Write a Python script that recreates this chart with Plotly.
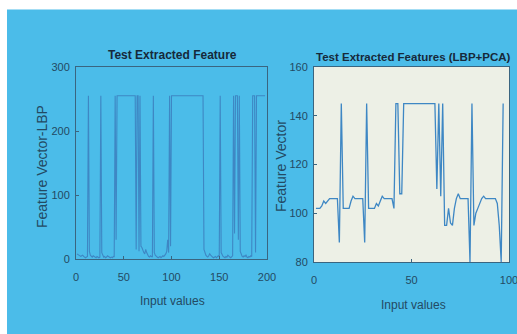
import plotly.graph_objects as go

# ---- data ----
lbp_values = [
    8, 7, 6, 5, 4, 5, 6, 4, 3, 2, 3, 4,
    255,
    12, 6, 4, 3, 5, 4, 3, 2, 4, 3, 2, 3,
    255,
    10, 5, 3, 4, 2, 3, 5, 4, 3, 2, 3, 2, 4, 3,
    255, 30, 255,
    255, 255, 255, 255, 255, 255, 255, 255, 255, 255, 255, 255, 255, 255, 255, 255, 255, 255,
    255, 15, 255, 255, 12, 255, 20,
    18, 12, 10, 8, 15, 10, 6, 4, 3, 5, 4, 3,
    255,
    10, 6, 4, 3, 2, 3, 4, 2, 3, 5, 4, 6, 8, 12, 30, 10,
    255, 20, 255,
    255, 255, 255, 255, 255, 255, 255, 255, 255, 255, 255, 255, 255, 255, 255, 255, 255,
    255, 255, 255, 255, 255, 255, 255, 255, 255, 255, 255, 255, 255, 255, 255, 255,
    15, 8,
    6, 4, 3, 5, 8, 6, 4, 3, 2, 3, 4, 2, 3, 5, 4,
    255,
    10, 5, 4, 3, 2, 4, 3, 6, 4, 3, 2, 3, 5,
    255, 40, 255, 255, 255, 30, 255, 12,
    6, 4, 3, 5, 4, 6, 3, 2, 4, 3, 5, 4,
    255, 255, 255, 10, 255,
    255, 255, 255, 255, 255, 255, 255, 255, 255,
]
lbp_x = list(range(1, len(lbp_values) + 1))

pca_values = [
    102, 102, 102, 103, 105, 104, 105, 106, 106, 106, 106, 106,
    88, 145,
    102, 102, 102, 102, 105, 107, 106, 106, 106, 106, 106,
    88, 145,
    102, 102, 102, 102, 104, 103, 105, 107, 106, 106, 106, 106, 106,
    102, 145, 145, 108, 108,
    145, 145, 145, 145, 145, 145, 145, 145, 145, 145, 145, 145, 145, 145, 145, 145, 145,
    110, 145, 107, 145, 95, 95, 102, 96, 95, 102, 106, 108,
    106, 106, 106, 106, 106,
    80, 145,
    95, 100, 102, 104, 106, 107, 106, 106, 106, 106, 106, 106, 104,
    95, 80, 145,
]
pca_x = list(range(1, len(pca_values) + 1))

left_xticks = [0, 50, 100, 150, 200]
left_yticks = [0, 100, 200, 300]
right_xticks = [0, 50, 100]
right_yticks = [80, 100, 120, 140, 160]

W, H = 517, 334
BG = "#4BBCE9"
LINE = "#3E87C4"
TXT = "#234A63"
FRAME = "#3A6580"
FONT = "Liberation Sans, Arial, sans-serif"


def px_x(p):
    return p / W


def px_y(p):
    return 1 - p / H


fig = go.Figure()
fig.add_trace(go.Scatter(x=lbp_x, y=lbp_values, mode="lines",
                         line=dict(color=LINE, width=1.1), xaxis="x", yaxis="y",
                         showlegend=False))
fig.add_trace(go.Scatter(x=pca_x, y=pca_values, mode="lines",
                         line=dict(color=LINE, width=1.3), xaxis="x2", yaxis="y2",
                         showlegend=False))

axis_common = dict(showgrid=False, zeroline=False, ticks="inside", ticklen=3,
                   tickcolor=FRAME, showline=True, linecolor=FRAME, linewidth=1,
                   mirror=True, automargin=False, ticklabeloverflow="allow",
                   tickfont=dict(family=FONT, size=11, color=TXT))


def label(text, x, y, size, color=TXT, angle=0):
    return dict(text=text, xref="paper", yref="paper", x=px_x(x), y=px_y(y),
                xanchor="center", yanchor="middle", showarrow=False, textangle=angle,
                font=dict(family=FONT, size=size, color=color))


fig.update_layout(
    width=W, height=H,
    autosize=False,
    margin=dict(l=0, r=0, t=0, b=0, pad=0, autoexpand=False),
    paper_bgcolor="white",
    plot_bgcolor="white",
    xaxis=dict(domain=[px_x(76), px_x(267)], range=[0, 200], tickvals=left_xticks,
               anchor="y", ticklabelstandoff=8, **axis_common),
    yaxis=dict(domain=[px_y(259), px_y(67)], range=[0, 300], tickvals=left_yticks,
               anchor="x", ticklabelstandoff=3, **axis_common),
    xaxis2=dict(domain=[px_x(314), px_x(509)], range=[0, 100], tickvals=right_xticks,
                anchor="y2", ticklabelstandoff=8, **axis_common),
    yaxis2=dict(domain=[px_y(262), px_y(67)], range=[80, 160], tickvals=right_yticks,
                anchor="x2", ticklabelstandoff=3, **axis_common),
    shapes=[
        dict(type="rect", xref="paper", yref="paper", layer="below",
             x0=px_x(7), x1=1, y0=0, y1=px_y(9.5), fillcolor=BG, line=dict(width=0)),
        dict(type="rect", xref="x2 domain", yref="y2 domain", layer="below",
             x0=0, x1=1, y0=0, y1=1, fillcolor="#EDF0E6", line=dict(width=0)),
    ],
    annotations=[
        label("<b>Test Extracted Feature</b>", 172, 55, 12, "#16293A"),
        label("<b>Test Extracted Features (LBP+PCA)</b>", 413, 57, 11.5, "#16293A"),
        label("Input values", 172, 301, 12),
        label("Input values", 413, 305, 12),
        label("Feature Vector-LBP", 42, 167, 14, angle=-90),
        label("Feature Vector", 281, 166, 14, angle=-90),
    ],
)

fig.write_html(
    "out.html",
    config={"displayModeBar": False},
    post_script="document.body.style.margin='0';document.body.style.padding='0';"
                "document.body.style.overflow='hidden';",
)
